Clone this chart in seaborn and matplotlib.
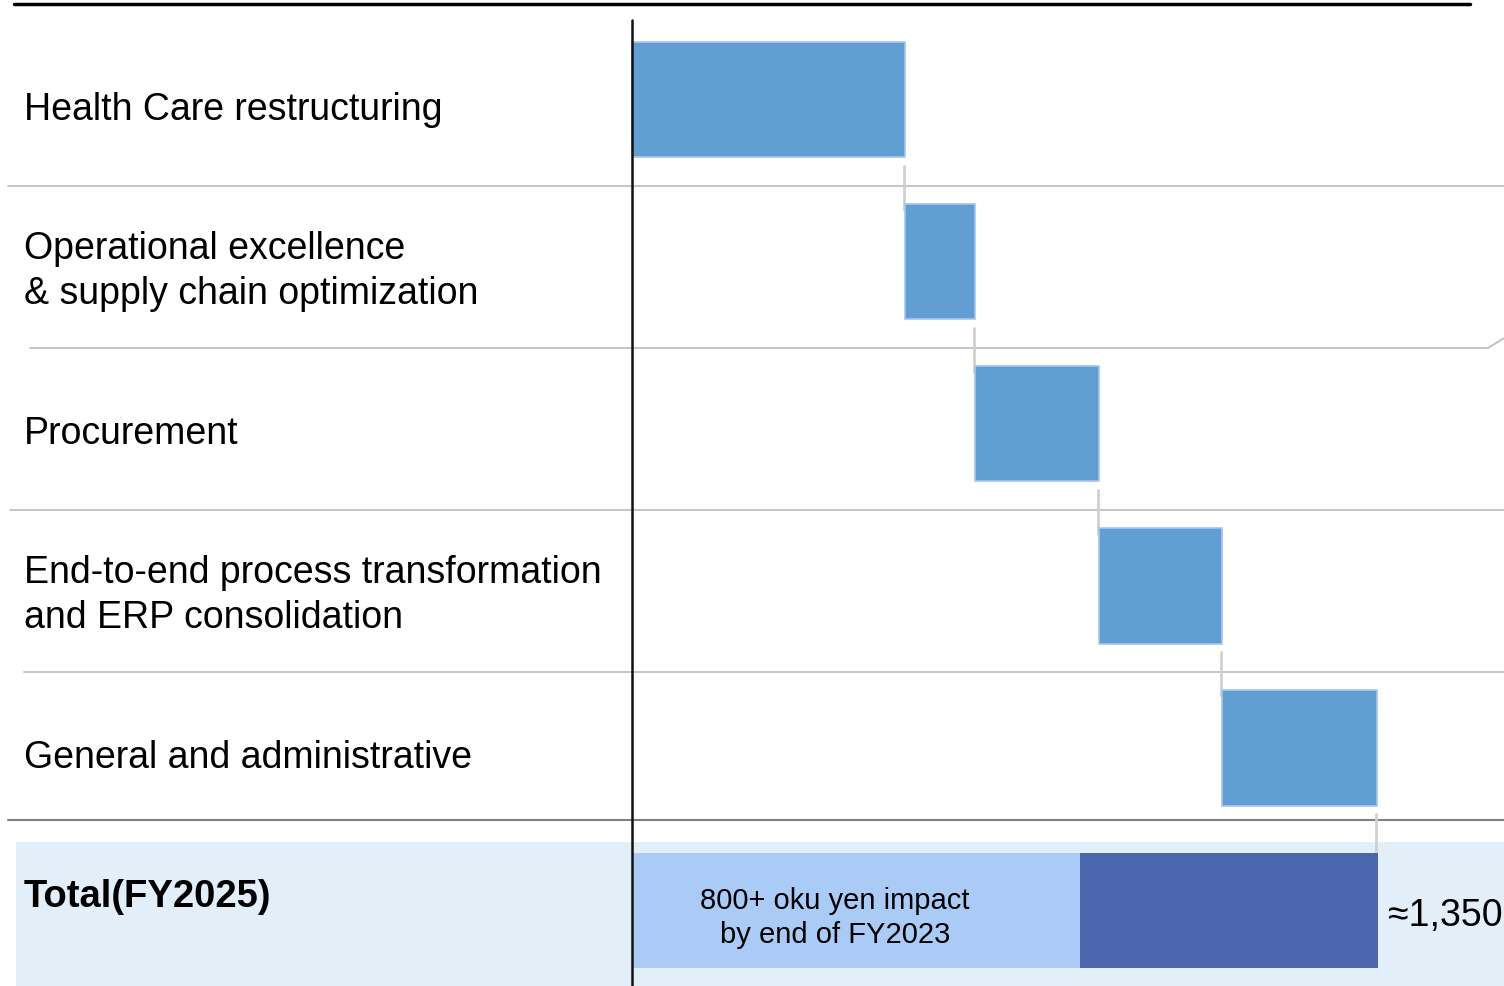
import numpy as np
import pandas as pd
import matplotlib
matplotlib.use("Agg")
import matplotlib.pyplot as plt
import seaborn as sns

categories = ["Health Care restructuring",
              "Operational excellence\n& supply chain optimization",
              "Procurement",
              "End-to-end process transformation\nand ERP consolidation",
              "General and administrative"]
impacts = [494, 127, 224, 223, 281]
total_label = "Total(FY2025)"
total_value = 1350
fy2023_value = 810
total_text = "≈1,350"
fy2023_text = "800+ oku yen impact\nby end of FY2023"

df = pd.DataFrame({"category": categories, "impact": impacts})
df["start"] = df["impact"].cumsum() - df["impact"]
df["end"] = df["impact"].cumsum()

sns.set_style("white")
plt.rcParams["font.family"] = ["Liberation Sans", "DejaVu Sans"]

fig = plt.figure(figsize=(15.04, 9.86), dpi=100)
ax = fig.add_axes([0, 0, 1, 1])
ax.set_xlim(-1143.7, 1578.0)
ax.set_ylim(5.469, -0.617)
ax.axis("off")

bar_h = 0.71
yx = ax.get_yaxis_transform()  # x in axes fraction, y in data

# total row background
ax.axhspan(4.58, 5.469, xmin=16 / 1504, xmax=1, color="#e2eef8", zorder=0, lw=0)

# waterfall bars
ax.barh(np.arange(len(df)), df["impact"], left=df["start"], height=bar_h,
        color="#619fd2", edgecolor="#a4c6f0", linewidth=1.2, zorder=3)

# total bars
ax.barh(5, total_value, height=bar_h, color="#4a66ad", zorder=3, lw=0)
ax.barh(5, fy2023_value, height=bar_h, color="#abcbf7", zorder=4, lw=0)

# connectors
ends = list(df["end"])
for i, e in enumerate(ends):
    ax.plot([e - 2, e - 2], [i + 0.405, i + 0.68], color="#d0d0d0", lw=2, zorder=2)

# row separators
seps = [0.531, 1.531, 2.531, 3.531]
sep_left = [8, 30, 10, 24]
for y, xl in zip(seps, sep_left):
    xr = 1488 if y == 1.531 else 1504
    ax.plot([xl / 1504, xr / 1504], [y, y], transform=yx, color="#c0c0c0", lw=1.3, zorder=1)
ax.plot([1488 / 1504, 1.0], [1.531, 1.47], transform=yx, color="#c0c0c0", lw=1.3, zorder=1)
ax.plot([8 / 1504, 1.0], [4.444, 4.444], transform=yx, color="#808080", lw=1.5, zorder=1)

# top rule and axis line
ax.plot([14 / 1504, 1470 / 1504], [-0.593, -0.593], transform=yx, color="black", lw=2.5, zorder=5)
ax.plot([0, 0], [-0.494, 5.469], color="#111111", lw=1.8, zorder=6)

# row labels
for i, lab in enumerate(categories):
    ax.text(24 / 1504, i + 0.06, lab, transform=yx, ha="left", va="center",
            fontsize=27, color="black", linespacing=1.32)
ax.text(24 / 1504, 4.92, total_label, transform=yx, ha="left", va="center",
        fontsize=27.5, fontweight="bold", color="black")

ax.text(367, 5.05, fy2023_text, ha="center", va="center",
        fontsize=21, color="black", linespacing=1.3, zorder=7)
ax.text(total_value + 18, 5.04, total_text, ha="left", va="center",
        fontsize=27, color="black", zorder=7)

fig.savefig("out.png", dpi=100)
